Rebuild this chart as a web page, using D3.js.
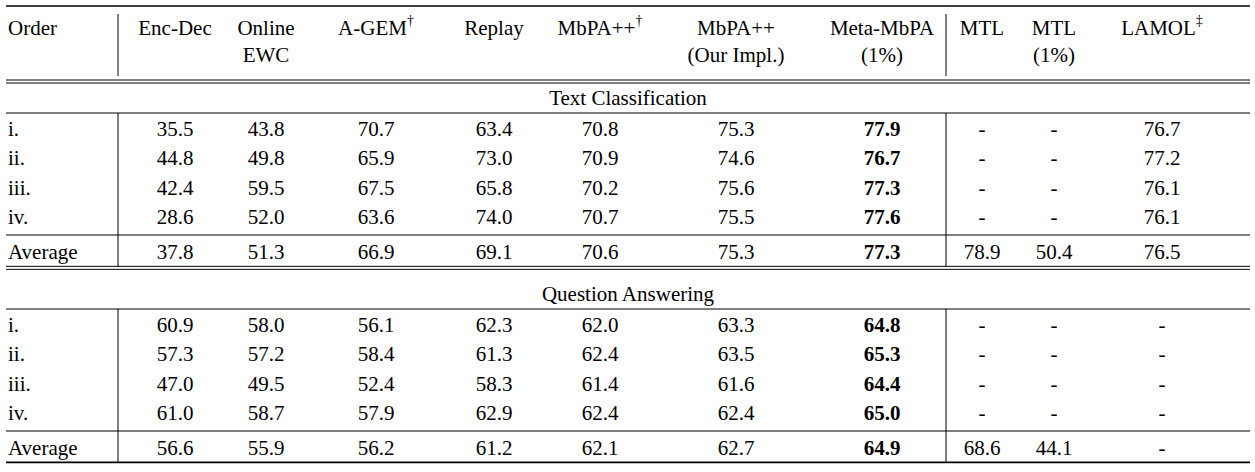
<!DOCTYPE html>
<html>
<head>
<meta charset="utf-8">
<script src="https://cdn.jsdelivr.net/npm/d3@7"></script>
<style>
  body { margin: 0; background: #fff; }
  text { font-family: "Liberation Serif", "Times New Roman", serif; fill: #000; }
</style>
</head>
<body>
<div id="chart"></div>
<script>
// 表头（两行）
const headers1 = ["Order", "Enc-Dec", "Online", "A-GEM", "Replay", "MbPA++", "MbPA++", "Meta-MbPA", "MTL", "MTL", "LAMOL"];
const headers2 = ["", "", "EWC", "", "", "", "(Our Impl.)", "(1%)", "", "(1%)", ""];
const headerSup = ["", "", "", "†", "", "†", "", "", "", "", "‡"];
const orders = ["i.", "ii.", "iii.", "iv.", "Average"];

// Text Classification
const tcValues = [
  ["35.5", "43.8", "70.7", "63.4", "70.8", "75.3", "77.9", "-", "-", "76.7"],
  ["44.8", "49.8", "65.9", "73.0", "70.9", "74.6", "76.7", "-", "-", "77.2"],
  ["42.4", "59.5", "67.5", "65.8", "70.2", "75.6", "77.3", "-", "-", "76.1"],
  ["28.6", "52.0", "63.6", "74.0", "70.7", "75.5", "77.6", "-", "-", "76.1"],
  ["37.8", "51.3", "66.9", "69.1", "70.6", "75.3", "77.3", "78.9", "50.4", "76.5"]
];
// Question Answering
const qaValues = [
  ["60.9", "58.0", "56.1", "62.3", "62.0", "63.3", "64.8", "-", "-", "-"],
  ["57.3", "57.2", "58.4", "61.3", "62.4", "63.5", "65.3", "-", "-", "-"],
  ["47.0", "49.5", "52.4", "58.3", "61.4", "61.6", "64.4", "-", "-", "-"],
  ["61.0", "58.7", "57.9", "62.9", "62.4", "62.4", "65.0", "-", "-", "-"],
  ["56.6", "55.9", "56.2", "61.2", "62.1", "62.7", "64.9", "68.6", "44.1", "-"]
];
const sections = ["Text Classification", "Question Answering"];
const boldCol = 7;

const width = 1255, height = 472;
const fs = "21px";
const svg = d3.select("#chart").append("svg")
  .attr("width", width).attr("height", height);

// 列位置
const colX = d3.scaleOrdinal()
  .domain(d3.range(headers1.length))
  .range([8, 175, 266, 376, 494, 600, 736, 882, 982, 1054, 1162]);
// 行位置
const rowY = d3.scaleLinear().domain([0, 3]).range([0, 88]);

const line = (x1, x2, y, w) => svg.append("line")
  .attr("x1", x1).attr("x2", x2).attr("y1", y).attr("y2", y)
  .attr("stroke", "#000").attr("stroke-width", w);
const vline = (x, y1, y2) => svg.append("line")
  .attr("x1", x).attr("x2", x).attr("y1", y1).attr("y2", y2)
  .attr("stroke", "#000").attr("stroke-width", 1);

const L = 6, R = 1250;
line(L, R, 6, 1.6);

// 表头
headers1.forEach((h, i) => {
  const t = svg.append("text")
    .attr("x", colX(i)).attr("y", 28)
    .attr("dominant-baseline", "central")
    .attr("text-anchor", i === 0 ? "start" : "middle")
    .style("font-size", fs)
    .text(h);
  if (headerSup[i]) t.append("tspan").attr("dy", -8).style("font-size", "14px").text(headerSup[i]);
  if (headers2[i]) svg.append("text")
    .attr("x", colX(i)).attr("y", 55)
    .attr("dominant-baseline", "central")
    .attr("text-anchor", "middle")
    .style("font-size", fs)
    .text(headers2[i]);
});
vline(118, 14, 76);
vline(946, 14, 76);
line(L, R, 80, 1);
line(L, R, 83, 1);

// 两个部分
const sectionTop = [83, 279];
[tcValues, qaValues].forEach((vals, s) => {
  const top = sectionTop[s];
  svg.append("text")
    .attr("x", (L + R) / 2).attr("y", top + 15)
    .attr("dominant-baseline", "central")
    .attr("text-anchor", "middle")
    .style("font-size", fs)
    .text(sections[s]);
  line(L, R, top + 30, 1);
  const y0 = top + 46;
  vals.forEach((row, r) => {
    const y = y0 + rowY(r) + (r === 4 ? 6 : 0);
    svg.append("text")
      .attr("x", colX(0)).attr("y", y)
      .attr("dominant-baseline", "central")
      .style("font-size", fs)
      .text(orders[r]);
    row.forEach((v, c) => {
      svg.append("text")
        .attr("x", colX(c + 1)).attr("y", y)
        .attr("dominant-baseline", "central")
        .attr("text-anchor", "middle")
        .style("font-size", fs)
        .style("font-weight", c + 1 === boldCol ? "bold" : "normal")
        .text(v);
    });
  });
  const sepY = y0 + rowY(3) + 18;
  line(L, R, sepY, 1);
  const endY = y0 + rowY(4) + 6 + 14;
  vline(118, top + 30, endY);
  vline(946, top + 30, endY);
  if (s === 0) { line(L, R, endY, 1); line(L, R, endY + 3, 1); }
  else line(L, R, endY, 1.6);
});
</script>
</body>
</html>
